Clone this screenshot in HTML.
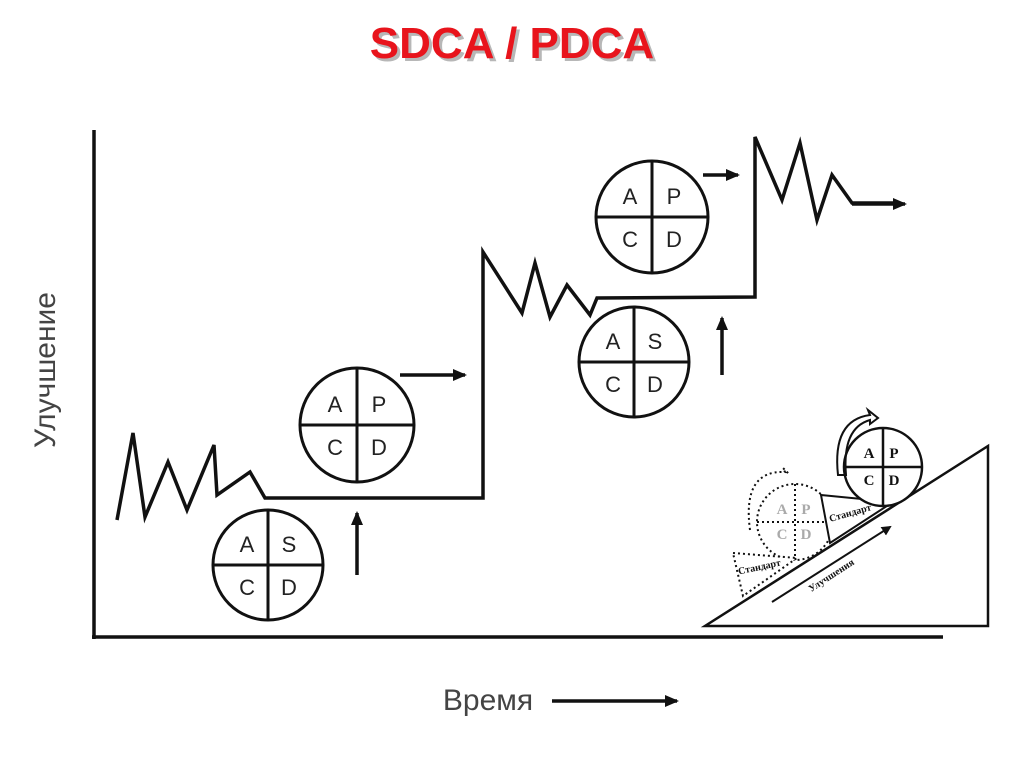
<!DOCTYPE html>
<html><head><meta charset="utf-8"><style>
html,body{margin:0;padding:0;background:#fff;width:1024px;height:767px;overflow:hidden}
</style></head><body>
<svg width="1024" height="767" viewBox="0 0 1024 767" xmlns="http://www.w3.org/2000/svg">
<defs>
<marker id="ah" markerWidth="10" markerHeight="10" refX="8" refY="5" orient="auto" markerUnits="userSpaceOnUse"><path d="M0,0 L10,5 L0,10 Z" fill="#111"/></marker>
<marker id="ah2" markerWidth="14" markerHeight="12" refX="12" refY="6" orient="auto" markerUnits="userSpaceOnUse"><path d="M0,0 L14,6 L0,12 Z" fill="#111"/></marker>
</defs>
<text x="515" y="61" text-anchor="middle" font-family="Liberation Sans Narrow, Liberation Sans, sans-serif" font-weight="bold" font-size="44" fill="#999" opacity="0.7">SDCA / PDCA</text>
<text x="512" y="58" text-anchor="middle" font-family="Liberation Sans Narrow, Liberation Sans, sans-serif" font-weight="bold" font-size="44" fill="#e8141c">SDCA / PDCA</text>

<g stroke="#111" stroke-width="3.5" fill="none">
<line x1="94" y1="130" x2="94" y2="639"/>
<line x1="92" y1="637" x2="943" y2="637"/>
<polyline stroke-linejoin="miter" points="117,520 133,433 145,517 168,462 187,510 214,445 217,495 250,472 265,498 483,498 483,252 522,313 535,263 550,317 567,285 590,315 597,298 755,297 755,137 782,200 800,143 817,220 832,175 852,203 895,203"/>
</g>
<line x1="852" y1="204" x2="905" y2="204" stroke="#111" stroke-width="3.5" marker-end="url(#ah2)"/>
<line x1="400" y1="375" x2="465" y2="375" stroke="#111" stroke-width="3.5" marker-end="url(#ah2)"/>
<line x1="703" y1="175" x2="738" y2="175" stroke="#111" stroke-width="3.5" marker-end="url(#ah2)"/>
<line x1="357" y1="575" x2="357" y2="513" stroke="#111" stroke-width="3.5" marker-end="url(#ah2)"/>
<line x1="722" y1="375" x2="722" y2="318" stroke="#111" stroke-width="3.5" marker-end="url(#ah2)"/>

<g font-family="Liberation Sans, sans-serif" font-size="22" fill="#222" text-anchor="middle">
<g transform="translate(357,425)">
<circle r="57" fill="none" stroke="#111" stroke-width="3"/><line x1="-57" y1="0" x2="57" y2="0" stroke="#111" stroke-width="3"/><line x1="0" y1="-57" x2="0" y2="57" stroke="#111" stroke-width="3"/>
<text x="-22" y="-13">A</text><text x="22" y="-13">P</text><text x="-22" y="30">C</text><text x="22" y="30">D</text></g>
<g transform="translate(268,565)">
<circle r="55" fill="none" stroke="#111" stroke-width="3"/><line x1="-55" y1="0" x2="55" y2="0" stroke="#111" stroke-width="3"/><line x1="0" y1="-55" x2="0" y2="55" stroke="#111" stroke-width="3"/>
<text x="-21" y="-13">A</text><text x="21" y="-13">S</text><text x="-21" y="30">C</text><text x="21" y="30">D</text></g>
<g transform="translate(652,217)">
<circle r="56" fill="none" stroke="#111" stroke-width="3"/><line x1="-56" y1="0" x2="56" y2="0" stroke="#111" stroke-width="3"/><line x1="0" y1="-56" x2="0" y2="56" stroke="#111" stroke-width="3"/>
<text x="-22" y="-13">A</text><text x="22" y="-13">P</text><text x="-22" y="30">C</text><text x="22" y="30">D</text></g>
<g transform="translate(634,362)">
<circle r="55" fill="none" stroke="#111" stroke-width="3"/><line x1="-55" y1="0" x2="55" y2="0" stroke="#111" stroke-width="3"/><line x1="0" y1="-55" x2="0" y2="55" stroke="#111" stroke-width="3"/>
<text x="-21" y="-13">A</text><text x="21" y="-13">S</text><text x="-21" y="30">C</text><text x="21" y="30">D</text></g>
</g>

<text transform="translate(55,370) rotate(-90)" text-anchor="middle" font-family="Liberation Sans, sans-serif" font-size="30" fill="#444">Улучшение</text>
<text x="488" y="710" text-anchor="middle" font-family="Liberation Sans, sans-serif" font-size="30" fill="#444">Время</text>
<line x1="552" y1="701" x2="677" y2="701" stroke="#111" stroke-width="3.5" marker-end="url(#ah2)"/>

<!-- inset -->
<g stroke="#111" fill="none">
<polygon points="705,626 988,626 988,446" stroke-width="2.5" fill="#fff"/>
<line x1="772" y1="602" x2="890" y2="527" stroke-width="2" marker-end="url(#ah)"/>
<circle cx="795" cy="522" r="38" stroke-width="2" stroke-dasharray="2,3"/>
<line x1="757" y1="522" x2="833" y2="522" stroke-width="2" stroke-dasharray="2,3"/>
<line x1="795" y1="484" x2="795" y2="560" stroke-width="2" stroke-dasharray="2,3"/>
<path d="M750,530 Q742,470 785,472 L783,468 L790,475" stroke-width="2" stroke-dasharray="2,3"/>
<polygon points="733,553 797,558 743,596" stroke-width="2" stroke-dasharray="2,3" fill="#fff"/>
<polygon points="821,495 893,502 830,543" stroke-width="2" fill="#fff"/>
<circle cx="883" cy="467" r="39" stroke-width="2.5" fill="#fff"/>
<line x1="844" y1="467" x2="922" y2="467" stroke-width="2.5"/>
<line x1="883" y1="428" x2="883" y2="506" stroke-width="2.5"/>
<path d="M838,475 Q832,420 870,415 L868,410 L878,418 L870,424 L870,420 Q842,428 846,475 Z" stroke-width="2"/>
</g>
<g font-family="Liberation Serif, serif" font-weight="bold" text-anchor="middle">
<text x="869" y="458" font-size="15" fill="#111">A</text><text x="894" y="458" font-size="15" fill="#111">P</text>
<text x="869" y="485" font-size="15" fill="#111">C</text><text x="894" y="485" font-size="15" fill="#111">D</text>
<text x="782" y="514" font-size="15" fill="#aaa">A</text><text x="806" y="514" font-size="15" fill="#aaa">P</text>
<text x="782" y="539" font-size="15" fill="#aaa">C</text><text x="806" y="539" font-size="15" fill="#aaa">D</text>
<text transform="translate(851,516) rotate(-16)" font-size="10" fill="#111">Стандарт</text>
<text transform="translate(760,570) rotate(-12)" font-size="10" fill="#111">Стандарт</text>
<text transform="translate(833,578) rotate(-33)" font-size="10" fill="#111">Улучшения</text>
</g>
</svg>
</body></html>
